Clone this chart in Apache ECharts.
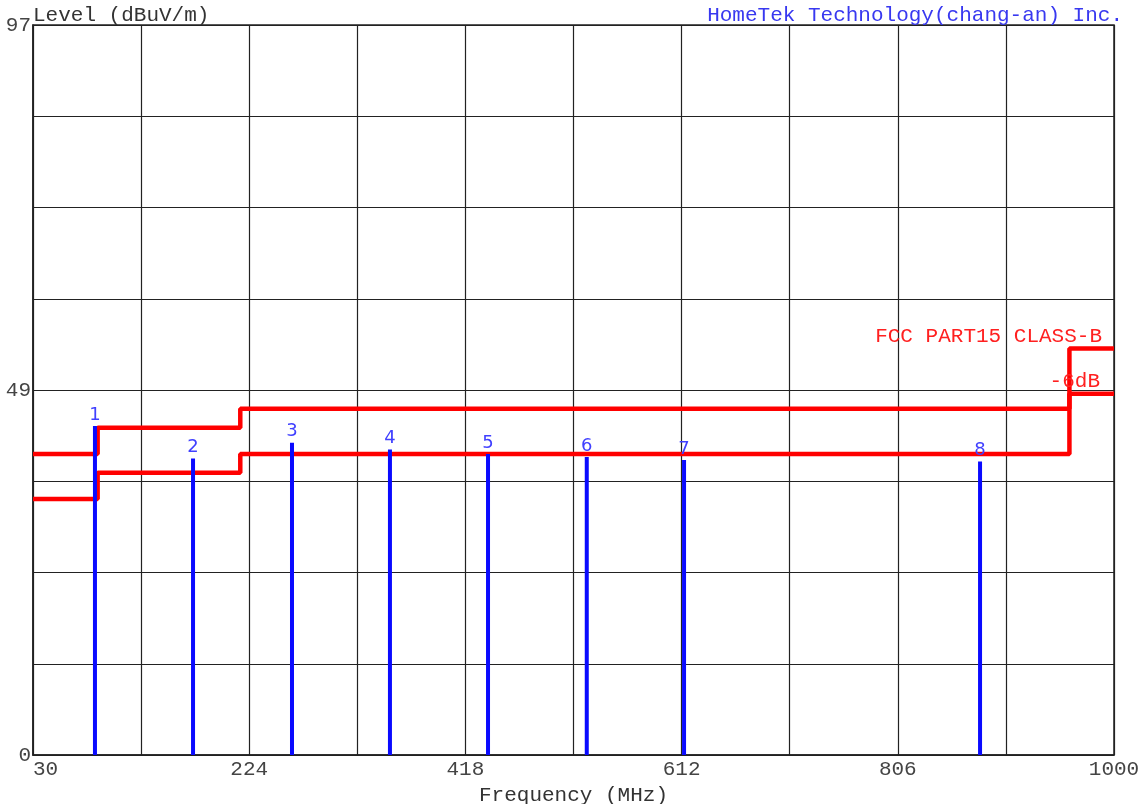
<!DOCTYPE html>
<html>
<head>
<meta charset="utf-8">
<script src="https://cdn.jsdelivr.net/npm/echarts@6/dist/echarts.min.js"></script>
<style>html,body{margin:0;padding:0;background:#fff}#c{width:1148px;height:804px}</style>
</head>
<body>
<div id="c"></div>
<script>
// Peak markers
const peakFreq = [85.6, 173.6, 262.4, 350.3, 438.3, 526.9, 614.2, 879.8];
const peakLevel = [43.7, 39.4, 41.5, 40.6, 40.0, 39.6, 39.2, 39.0];
const peakNames = ['1','2','3','4','5','6','7','8'];
// FCC Part15 Class B limit (step edges) and -6dB margin
const limitEdges = [30, 88, 216, 960, 1000];
const limitLevel = [40, 43.5, 46, 54];
const marginLevel = [34, 37.5, 40, 48];
// Axis labels
const xTickLabels = ['30', '224', '418', '612', '806', '1000'];
const yTickLabels = ['0', '49', '97'];

function stepPoints(edges, levels) {
  const pts = [];
  for (let i = 0; i < levels.length; i++) {
    pts.push([edges[i], levels[i]]);
    pts.push([edges[i + 1], levels[i]]);
  }
  return pts;
}

const mono = 'Liberation Mono, Courier New, monospace';
const chart = echarts.init(document.getElementById('c'));
chart.setOption({
  animation: false,
  backgroundColor: '#fff',
  title: [
    {
      text: 'HomeTek Technology(chang-an) Inc.',
      right: 20, top: 0,
      textStyle: { color: '#3838f0', fontFamily: mono, fontSize: 21, fontWeight: 'normal' }
    },
    {
      text: 'Level (dBuV/m)',
      left: 28, top: 0,
      textStyle: { color: '#333', fontFamily: mono, fontSize: 21, fontWeight: 'normal' }
    }
  ],
  grid: { left: 33, top: 25, right: 34, bottom: 49, outerBoundsMode: 'none', containLabel: false,
          show: true, borderColor: '#222', borderWidth: 1.5 },
  xAxis: {
    type: 'value', min: 30, max: 1000, interval: 97,
    name: 'Frequency (MHz)', nameLocation: 'middle', nameGap: 28,
    nameTextStyle: { color: '#333', fontFamily: mono, fontSize: 21 },
    axisLine: { show: true, lineStyle: { color: '#222', width: 1.5 } },
    axisTick: { show: false },
    splitLine: { show: true, lineStyle: { color: '#222', width: 1.2 } },
    axisLabel: {
      color: '#444', fontFamily: mono, fontSize: 21, margin: 4,
      alignMinLabel: 'left',
      formatter: function (v) {
        const idx = Math.round((v - 30) / 97);
        return idx % 2 === 0 ? xTickLabels[idx / 2] : '';
      }
    }
  },
  yAxis: {
    type: 'value', min: 0, max: 97, interval: 12.125,
    axisLine: { show: true, lineStyle: { color: '#222', width: 1.5 } },
    axisTick: { show: false },
    splitLine: { show: true, lineStyle: { color: '#222', width: 1.2 } },
    axisLabel: {
      color: '#444', fontFamily: mono, fontSize: 21, margin: 2,
      formatter: function (v) {
        const idx = Math.round(v / 12.125);
        return idx % 4 === 0 ? yTickLabels[idx / 4] : '';
      }
    }
  },
  series: [
    {
      type: 'line', data: stepPoints(limitEdges, limitLevel), symbol: 'none',
      lineStyle: { color: '#ff0000', width: 4.5 }, z: 3,
      markPoint: {
        symbol: 'circle', symbolSize: 0, silent: true,
        data: [{ coord: [1000, 54] }],
        label: {
          show: true, formatter: 'FCC PART15 CLASS-B', position: [0, 0],
          align: 'right', verticalAlign: 'bottom', offset: [-12, -2],
          color: '#ff2020', fontFamily: mono, fontSize: 21
        }
      }
    },
    {
      type: 'line', data: stepPoints(limitEdges, marginLevel), symbol: 'none',
      lineStyle: { color: '#ff0000', width: 4.5 }, z: 3,
      markPoint: {
        symbol: 'circle', symbolSize: 0, silent: true,
        data: [{ coord: [1000, 48] }],
        label: {
          show: true, formatter: '-6dB', position: [0, 0],
          align: 'right', verticalAlign: 'bottom', offset: [-14, -2],
          color: '#ff2020', fontFamily: mono, fontSize: 21
        }
      }
    },
    {
      type: 'bar', barWidth: 4, z: 4,
      data: peakFreq.map((f, i) => [f, peakLevel[i]]),
      itemStyle: { color: '#0a0aff' },
      label: {
        show: true, position: 'top', distance: 2,
        formatter: p => peakNames[p.dataIndex],
        color: '#4040ff', fontFamily: 'DejaVu Sans, sans-serif', fontSize: 18
      }
    }
  ]
});
</script>
</body>
</html>
